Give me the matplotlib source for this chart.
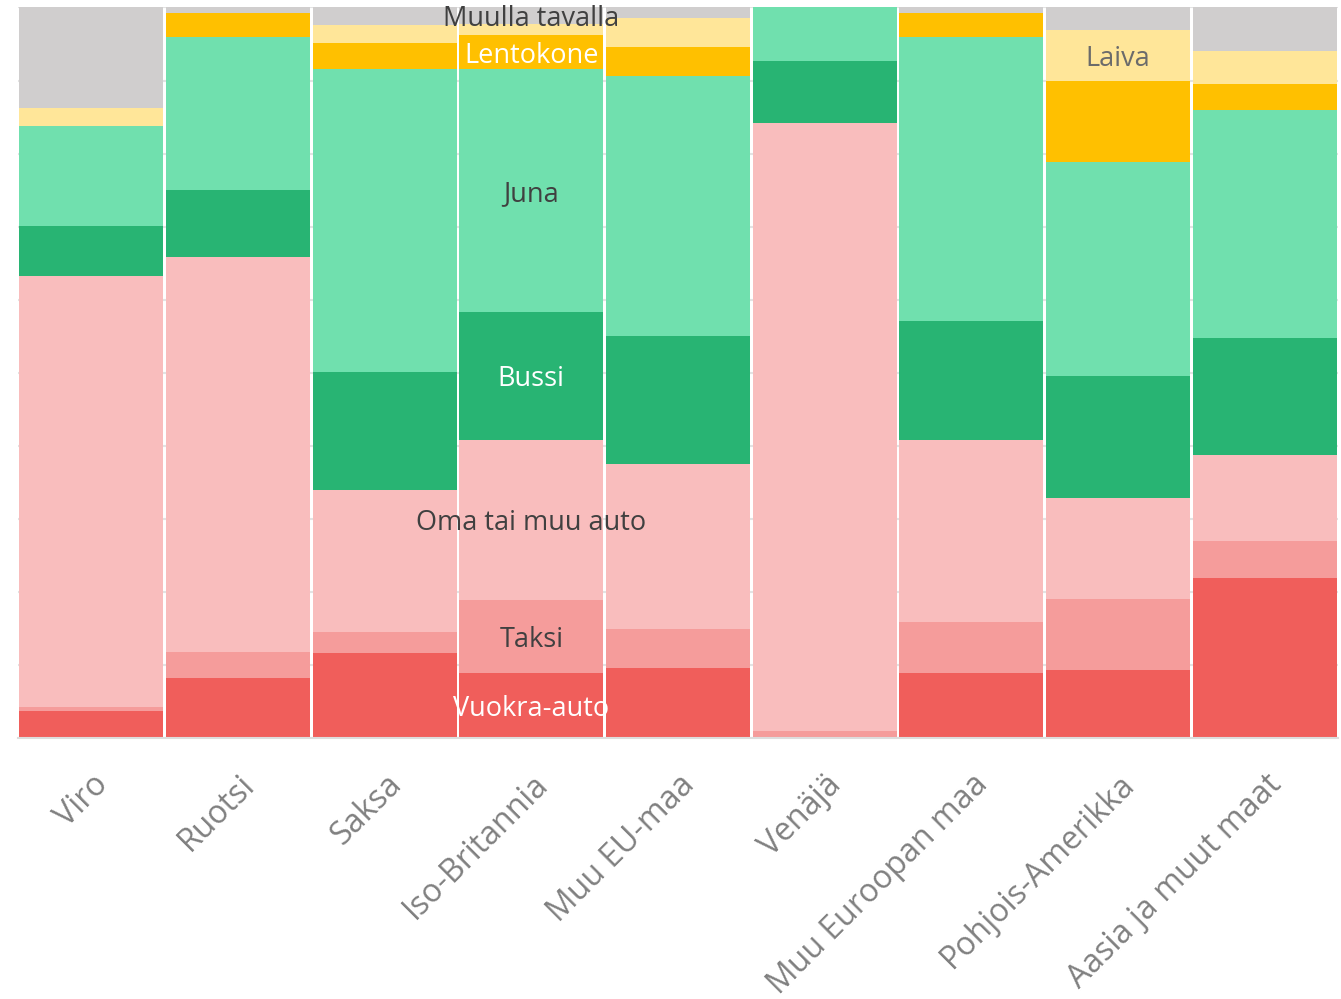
import numpy as np
import matplotlib
matplotlib.use("Agg")
import matplotlib.pyplot as plt

plt.rcParams['font.family'] = ['Open Sans', 'DejaVu Sans']

# Countries (x axis)
maat = ['Viro', 'Ruotsi', 'Saksa', 'Iso-Britannia', 'Muu EU-maa', 'Venäjä',
        'Muu Euroopan maa', 'Pohjois-Amerikka', 'Aasia ja muut maat']

# Share of trips by mode of transport, % (bottom -> top)
vuokra_auto = [3.6, 8.2, 11.6, 8.9, 9.6, 0.0, 8.8, 9.2, 21.9]
taksi = [0.6, 3.5, 2.9, 10.0, 5.3, 0.9, 7.1, 9.8, 5.0]
oma_auto = [59.0, 54.1, 19.4, 21.9, 22.6, 83.3, 24.9, 13.8, 11.8]
bussi = [6.9, 9.2, 16.2, 17.5, 17.5, 8.5, 16.2, 16.7, 16.1]
juna = [13.7, 21.0, 41.5, 33.3, 35.6, 7.3, 38.9, 29.4, 31.1]
lentokone = [0.0, 3.3, 3.5, 4.6, 4.0, 0.0, 3.4, 11.1, 3.6]
laiva = [2.5, 0.0, 2.5, 1.5, 3.9, 0.0, 0.0, 6.9, 4.5]
muulla = [13.7, 0.7, 2.4, 2.3, 1.5, 0.0, 0.7, 3.1, 6.0]

sarjat = ['Vuokra-auto', 'Taksi', 'Oma tai muu auto', 'Bussi', 'Juna',
          'Lentokone', 'Laiva', 'Muulla tavalla']
arvot = [vuokra_auto, taksi, oma_auto, bussi, juna, lentokone, laiva, muulla]
varit = ['#F05E5B', '#F59C9B', '#F9BDBD', '#28B473', '#70E0AE',
         '#FFC000', '#FFE699', '#D0CECE']
tekstivarit = ['white', '#404040', '#404040', 'white', '#404040',
               'white', '#6B6B6B', '#404040']
# which bar carries the series label
label_bar = [3, 3, 3, 3, 3, 3, 7, 3]

fig = plt.figure(figsize=(13.41, 9.99), dpi=100)
ax = fig.add_axes([0.0134, 0.2616, 0.9844, 0.7309])

x = np.arange(len(maat))
bottom = np.zeros(len(maat))
for nimi, data, vari, tv, lb in zip(sarjat, arvot, varit, tekstivarit, label_bar):
    data = np.array(data)
    ax.bar(x, data, width=0.98, bottom=bottom, color=vari,
           linewidth=0, zorder=2)
    ax.annotate(nimi, (lb, bottom[lb] + data[lb] / 2), xytext=(0, -2.5),
                textcoords='offset points', ha='center', va='center',
                color=tv, fontsize=19.5, zorder=3)
    bottom += data

ax.set_xlim(-0.5, len(maat) - 0.5)
ax.set_ylim(0, 100)
ax.set_yticks(np.arange(0, 101, 10))
ax.set_yticklabels([])
ax.yaxis.grid(True, color='#E3E3E3', linewidth=1.5, zorder=0)
ax.set_axisbelow(True)
ax.tick_params(axis='y', length=0)
ax.tick_params(axis='x', length=0, pad=22)

ax.set_xticks(x)
ax.set_xticklabels(maat, rotation=45, ha='right', rotation_mode='anchor',
                   color='#808080', fontsize=23)

for s in ['top', 'right', 'left']:
    ax.spines[s].set_visible(False)
ax.spines['bottom'].set_color('#DDDDDD')
ax.spines['bottom'].set_linewidth(1.5)

fig.savefig('out.png', dpi=100)
